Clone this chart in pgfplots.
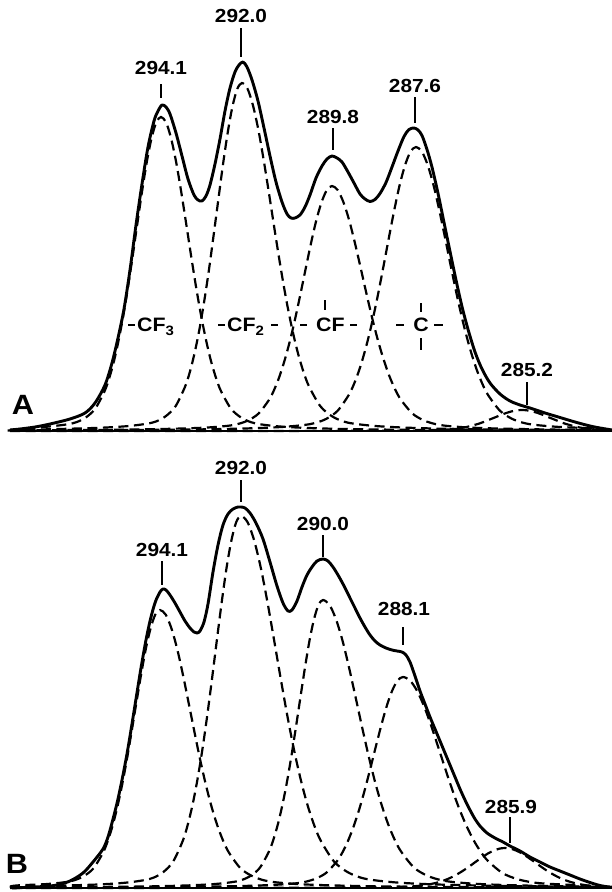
\documentclass[border=0pt]{standalone}
\usepackage{fontspec}
\setmainfont{Liberation Sans}
\newfontfamily\labfont{Liberation Sans}[FakeStretch=1.1]
\newfontfamily\panelfont{Liberation Sans}[FakeStretch=1.1]
\usepackage{pgfplots}
\pgfplotsset{compat=1.18}
\pgfplotsset{
  comp/.style={black, line width=2.2bp, dash pattern=on 10bp off 5.5bp, smooth, tension=0.5, no markers},
  env/.style={black, line width=2.9bp, smooth, tension=0.5, no markers, line join=round},
  base/.style={black, line width=2.8bp, no markers},
}
\tikzset{
  num/.style={anchor=base, inner sep=0pt, font=\labfont\bfseries\fontsize{19}{21}\selectfont},
  grp/.style={anchor=base west, inner sep=0pt, font=\labfont\bfseries\fontsize{19.5}{21}\selectfont},
  pan/.style={anchor=base, inner sep=0pt, font=\panelfont\bfseries\fontsize{28}{30}\selectfont},
  tk/.style={line width=1.2bp},
}
\begin{document}
\begin{tikzpicture}
\useasboundingbox (0,0) rectangle (612bp,892bp);
% ---------------- Panel A ----------------
\begin{axis}[at={(0,0)}, anchor=south west, x=1bp, y=1bp,
  xmin=0, xmax=612, ymin=-461, ymax=431, hide axis, clip=false]
\addplot[base] coordinates {(10,0) (612,0)};
% CF3 component
\addplot[comp] coordinates {(10,1.0) (20,2.0) (48.2,4.4) (67,6.6) (76.4,8.8) (85.8,13.5) (95.2,22.3) (104.6,39.9) (109.3,53.1) (114,70.0) (118.7,91.1) (123.4,115.9) (128.1,144.4) (132.8,175.8) (137.5,208.5) (142.2,240.5) (146.9,269.7) (151.6,293.0) (156.3,308.7) (161,314) (166,308.7) (171,293.0) (176,269.7) (181,240.5) (186,208.5) (191,175.8) (196,144.4) (201,115.9) (206,91.1) (211,70.0) (216,53.1) (221,39.9) (231,22.3) (241,13.5) (251,8.8) (261,6.6) (281,4.4) (311,2.9) (361,1.7) (461,0.75) (612,0.3)};
% CF2 component
\addplot[comp] coordinates {(10,0.8) (52,1.8) (99.5,3.2) (128,4.9) (147,7.3) (156.5,9.7) (166,15.0) (175.5,24.7) (185,44.2) (189.8,58.8) (194.5,77.6) (199.3,100.9) (204,128.4) (208.8,160.1) (213.5,194.9) (218.3,231.1) (223,266.6) (227.8,298.9) (232.5,324.7) (237.3,342.1) (242,348) (247.6,342.1) (253.2,324.7) (258.8,298.9) (264.4,266.6) (270,231.1) (275.6,194.9) (281.2,160.1) (286.8,128.4) (292.4,100.9) (298,77.6) (303.6,58.8) (309.2,44.2) (320.4,24.7) (331.6,15.0) (342.8,9.7) (354,7.3) (376.4,4.9) (410,3.2) (466,1.8) (578,0.8) (612,0.6)};
% CF component
\addplot[comp] coordinates {(10,0.5) (17,0.6) (122,1.3) (174.5,2.3) (206,3.4) (227,5.1) (237.5,6.9) (248,10.5) (258.5,17.4) (269,31.1) (274.25,41.4) (279.5,54.6) (284.75,71.1) (290,90.4) (295.25,112.7) (300.5,137.2) (305.75,162.7) (311,187.7) (316.25,210.5) (321.5,228.6) (326.75,240.8) (332,245) (337.75,240.8) (343.5,228.6) (349.25,210.5) (355,187.7) (360.75,162.7) (366.5,137.2) (372.25,112.7) (378,90.4) (383.75,71.1) (389.5,54.6) (395.25,41.4) (401,31.1) (412.5,17.4) (424,10.5) (435.5,6.9) (447,5.1) (470,3.4) (504.5,2.3) (562,1.3) (612,1.0)};
% C component
\addplot[comp] coordinates {(10,0.4) (80,0.7) (192,1.5) (248,2.6) (281.6,4.0) (304,6.0) (315.2,8.0) (326.4,12.2) (337.6,20.2) (348.8,36.1) (354.4,48.0) (360,63.3) (365.6,82.4) (371.2,104.8) (376.8,130.6) (382.4,159.0) (388,188.6) (393.6,217.5) (399.2,244.0) (404.8,265.0) (410.4,279.2) (416,284) (422,279.2) (428,265.0) (434,244.0) (440,217.5) (446,188.6) (452,159.0) (458,130.6) (464,104.8) (470,82.4) (476,63.3) (482,48.0) (488,36.1) (500,20.2) (512,12.2) (524,8.0) (536,6.0) (560,4.0) (596,2.6) (612,1.2)};
% 285.2 component
\addplot[comp] coordinates {(10,0) (207,0.05) (312,0.1) (364.5,0.2) (396,0.3) (417,0.4) (427.5,0.6) (438,0.9) (448.5,1.5) (459,2.7) (464.25,3.5) (469.5,4.7) (474.75,6.1) (480,7.7) (485.25,9.7) (490.5,11.8) (495.75,13.9) (501,16.1) (506.25,18.0) (511.5,19.6) (516.75,20.6) (522,21) (527.25,20.6) (532.5,19.6) (537.75,18.0) (543,16.1) (548.25,13.9) (553.5,11.8) (558.75,9.7) (564,7.7) (569.25,6.1) (574.5,4.7) (579.75,3.5) (585,2.7) (595.5,1.5) (606,0.9) (612,0.7)};
% envelope
\addplot[env] coordinates {(10,1) (20,2) (35,4) (50,7) (70,12) (85,18) (95,28) (105,46) (112,68) (118,93) (124,122) (130,161) (136,206) (142,247) (148,284) (154,310) (158,320) (162,326) (166,324) (170,317) (176,298) (182,275) (188,252) (194,236) (198,231) (202,230) (206,235) (210,246) (215,267) (220,292) (225,320) (230,343) (235,359) (239,366) (243,369) (247,364) (252,351) (258,330) (264,303) (270,275) (276,249) (282,229) (287,217) (291,213) (295,213) (300,216) (305,224) (310,236) (316,253) (322,265) (327,272) (332,275) (337,273) (342,269) (348,259) (354,248) (360,237) (365,232) (370,229.5) (375,231.5) (380,237.5) (386,248.5) (392,264) (398,280) (404,294.5) (409,301.5) (414,303) (418,301) (422,295.5) (427,281.5) (432,263.8) (438,237.7) (444,208.6) (450,179.6) (456,151) (462,124.4) (468,101.7) (475,79) (482,62) (490,48) (500,37) (510,30) (520,26) (530,23) (545,18) (560,13.5) (575,9) (590,5) (600,3) (612,1)};
% peak labels
\node[num] at (161,356) {294.1};
\draw[tk] (161,333) -- (161,347);
\node[num] at (241,408) {292.0};
\draw[tk] (241,374) -- (241,403);
\node[num] at (333,307) {289.8};
\draw[tk] (333,281) -- (333,303);
\node[num] at (415,338) {287.6};
\draw[tk] (415,308) -- (415,334);
\node[num] at (527,54) {285.2};
\draw[tk] (527,26) -- (527,49);
% group labels
\draw[tk] (128,106) -- (135,106);
\node[grp] at (137,99) {CF\textsubscript{3}};
\draw[tk] (218,106) -- (225,106);
\node[grp] at (227,99) {CF\textsubscript{2}};
\draw[tk] (271,106) -- (278,106);
\draw[tk] (300,106) -- (307,106);
\node[grp] at (316,99) {CF};
\draw[tk] (350,106) -- (357,106);
\draw[tk] (325,121) -- (325,131);
\draw[tk] (396,106) -- (404,106);
\node[grp, anchor=base] at (421,99) {C};
\draw[tk] (434,106) -- (443,106);
\draw[tk] (421,119) -- (421,128);
\draw[tk] (421,81) -- (421,93);
\node[pan] at (23,16) {A};
\end{axis}
% ---------------- Panel B ----------------
\begin{axis}[at={(0,0)}, anchor=south west, x=1bp, y=1bp,
  xmin=0, xmax=612, ymin=-4, ymax=888, hide axis, clip=false]
\addplot[base] coordinates {(10,0) (612,0)};
% CF3 component
\addplot[comp] coordinates {(10,1.5) (17.5,2.6) (46,3.9) (65,5.8) (74.5,7.8) (84,12.0) (93.5,19.7) (103,35.3) (107.75,47.0) (112.5,62.0) (117.25,80.6) (122,102.6) (126.75,127.9) (131.5,155.7) (136.25,184.6) (141,212.9) (145.75,238.8) (150.5,259.4) (155.25,273.3) (160,278) (165.75,273.3) (171.5,259.4) (177.25,238.8) (183,212.9) (188.75,184.6) (194.5,155.7) (200.25,127.9) (206,102.6) (211.75,80.6) (217.5,62.0) (223.25,47.0) (229,35.3) (240.5,19.7) (252,12.0) (263.5,7.8) (275,5.8) (298,3.9) (332.5,2.6) (390,1.5) (505,0.7) (612,0.4)};
% CF2 component
\addplot[comp] coordinates {(10,1.0) (47,2.0) (95.5,3.4) (124.6,5.2) (144,7.8) (153.7,10.4) (163.4,16.0) (173.1,26.4) (182.8,47.2) (187.65,62.9) (192.5,83.0) (197.35,107.9) (202.2,137.3) (207.05,171.1) (211.9,208.3) (216.75,247.0) (221.6,285.0) (226.45,319.5) (231.3,347.1) (236.15,365.7) (241,372) (247.65,365.7) (254.3,347.1) (260.95,319.5) (267.6,285.0) (274.25,247.0) (280.9,208.3) (287.55,171.1) (294.2,137.3) (300.85,107.9) (307.5,83.0) (314.15,62.9) (320.8,47.2) (334.1,26.4) (347.4,16.0) (360.7,10.4) (374,7.8) (400.6,5.2) (440.5,3.4) (507,2.0) (612,0.9)};
% CF component
\addplot[comp] coordinates {(10,0.4) (53,0.7) (143,1.5) (188,2.6) (215,4.0) (233,6.0) (242,8.1) (251,12.4) (260,20.4) (269,36.6) (273.5,48.7) (278,64.2) (282.5,83.5) (287,106.3) (291.5,132.5) (296,161.3) (300.5,191.2) (305,220.6) (309.5,247.4) (314,268.7) (318.5,283.1) (323,288) (329.5,283.1) (336,268.7) (342.5,247.4) (349,220.6) (355.5,191.2) (362,161.3) (368.5,132.5) (375,106.3) (381.5,83.5) (388,64.2) (394.5,48.7) (401,36.6) (414,20.4) (427,12.4) (440,8.1) (453,6.0) (479,4.0) (518,2.6) (583,1.5) (612,1.2)};
% C component
\addplot[comp] coordinates {(10,0.3) (73,0.5) (183,1.1) (238,1.9) (271,3.0) (293,4.4) (304,5.9) (315,9.1) (326,15.0) (337,26.8) (342.5,35.7) (348,47.1) (353.5,61.2) (359,77.9) (364.5,97.1) (370,118.2) (375.5,140.1) (381,161.6) (386.5,181.2) (392,196.9) (397.5,207.4) (403,211) (410.1,207.4) (417.2,196.9) (424.3,181.2) (431.4,161.6) (438.5,140.1) (445.6,118.2) (452.7,97.1) (459.8,77.9) (466.9,61.2) (474,47.1) (481.1,35.7) (488.2,26.8) (502.4,15.0) (516.6,9.1) (530.8,5.9) (545,4.4) (573.4,3.0) (612,1.0)};
% 285.9 component
\addplot[comp] coordinates {(10,0.05) (160,0.1) (275,0.2) (332.5,0.4) (367,0.6) (390,0.8) (401.5,1.1) (413,1.7) (424.5,2.8) (436,5.1) (441.75,6.8) (447.5,8.9) (453.25,11.6) (459,14.8) (464.75,18.4) (470.5,22.4) (476.25,26.6) (482,30.6) (487.75,34.4) (493.5,37.3) (499.25,39.3) (505,40) (510.75,39.3) (516.5,37.3) (522.25,34.4) (528,30.6) (533.75,26.6) (539.5,22.4) (545.25,18.4) (551,14.8) (556.75,11.6) (562.5,8.9) (568.25,6.8) (574,5.1) (585.5,2.8) (597,1.7) (612,1.0)};
% envelope
\addplot[env] coordinates {(12,0) (30,0.8) (45,1.6) (57,3) (70,7) (83,15) (93,26) (103,39) (108,51) (112.5,67) (117.3,86) (122,108) (126.8,133) (131.5,161) (136.3,191) (141,220) (145.8,247) (150.5,269) (155.3,286) (160,296) (163,299) (166,298) (170,293) (175,285) (180,276) (185,267) (190,260) (194,256) (197,255) (200,257) (204,266) (208,284) (213,316) (218,343) (223,363) (228,374) (233,379) (238,381) (241,381) (245,380) (250,375) (256,365) (263,349) (270,326) (277,302) (283,285) (288,277) (292,278) (297,287) (302,301) (307,313) (312,321) (317,327) (323,329) (328,327) (333,321) (338,313) (343,304) (350,290) (355,280) (360,270) (365,261) (370,253) (375,247) (380,243) (386,240) (392,238) (397,237) (402,236) (406,233) (410,226) (415,212) (420,197) (425,184) (430,171) (435,159) (440,147) (445,135) (450,123) (455,111) (460,99) (465,88) (470,78) (475,69) (480,62) (487,55) (495,50) (503,46) (510,42) (520,37) (530,31) (540,26) (550,21) (560,17) (570,13) (580,9) (590,5.5) (600,2.5) (612,0.5)};
% peak labels
\node[num] at (162,332) {294.1};
\draw[tk] (162,303) -- (162,327);
\node[num] at (241,413) {292.0};
\draw[tk] (241,386) -- (241,408);
\node[num] at (323,358) {290.0};
\draw[tk] (323,331) -- (323,353);
\node[num] at (404,273) {288.1};
\draw[tk] (403,243) -- (403,261);
\node[num] at (511,75) {285.9};
\draw[tk] (510,45) -- (510,71);
\node[pan] at (17,15) {B};
\end{axis}
\end{tikzpicture}
\end{document}
